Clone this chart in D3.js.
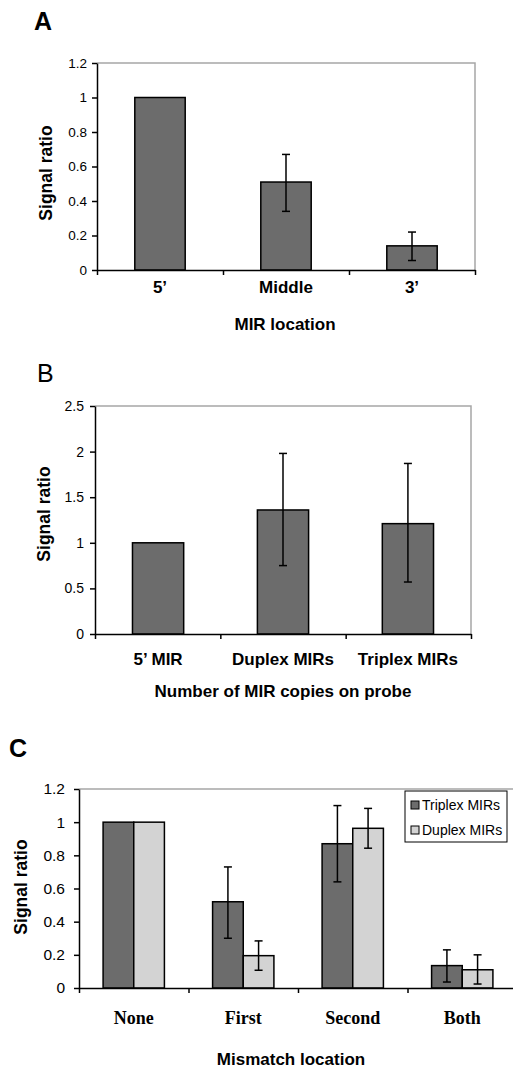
<!DOCTYPE html>
<html>
<head>
<meta charset="utf-8">
<script src="https://cdn.jsdelivr.net/npm/d3@7"></script>
<style>
  body { margin: 0; background: #fff; }
  svg { display: block; font-family: Arial, "Liberation Sans", sans-serif; }
  .border { stroke: #a6a6a6; stroke-width: 1.5; fill: none; }
  .axis path, .axis line { stroke: #000; stroke-width: 1.5; }
  .err { stroke: #000; stroke-width: 1.5; }
</style>
</head>
<body>
<svg id="chart" width="513" height="1068"></svg>
<script>
// panel A
var catsA = ["5\u2019", "Middle", "3\u2019"];
var valsA = [1, 0.51, 0.14];
var hiA = [null, 0.67, 0.22];
var loA = [null, 0.34, 0.055];
var ticksA = [0, 0.2, 0.4, 0.6, 0.8, 1, 1.2];

// panel B
var catsB = ["5\u2019 MIR", "Duplex MIRs", "Triplex MIRs"];
var valsB = [1, 1.36, 1.21];
var hiB = [null, 1.98, 1.87];
var loB = [null, 0.75, 0.57];
var ticksB = [0, 0.5, 1, 1.5, 2, 2.5];

// panel C
var catsC = ["None", "First", "Second", "Both"];
var seriesC = ["Triplex MIRs", "Duplex MIRs"];
var triplexC = [1, 0.52, 0.87, 0.135];
var triplexHiC = [null, 0.73, 1.10, 0.23];
var triplexLoC = [null, 0.30, 0.64, 0.036];
var duplexC = [1, 0.195, 0.963, 0.11];
var duplexHiC = [null, 0.284, 1.083, 0.20];
var duplexLoC = [null, 0.107, 0.843, 0.024];
var ticksC = [0, 0.2, 0.4, 0.6, 0.8, 1, 1.2];

var dark = "#6c6c6c", light = "#d3d3d3";
var svg = d3.select("#chart");

function panel(o) {
	var g = svg.append("g");
	var x = d3.scaleBand().domain(o.cats).range([o.left, o.right])
		.paddingInner(o.padIn).paddingOuter(o.padOut);
	var y = d3.scaleLinear().domain([0, o.max]).range([o.bottom, o.top]);
	var idx = d3.scaleLinear().domain([0, o.cats.length]).range([o.left, o.right]);

	// gray frame top and right
	g.append("path").attr("class", "border")
		.attr("d", "M" + o.left + "," + y(o.max) + "H" + o.right + "V" + o.bottom);

	var bars = g.append("g");
	o.series.forEach(function(s, si) {
		var sub = d3.scaleBand().domain(d3.range(o.series.length)).range([0, x.bandwidth()]);
		var bx = function(i) { return x(o.cats[i]) + sub(si); };
		bars.selectAll(null).data(s.vals).enter().append("rect")
			.attr("x", function(d, i) { return bx(i); })
			.attr("y", function(d) { return y(d); })
			.attr("width", sub.bandwidth())
			.attr("height", function(d) { return y(0) - y(d); })
			.attr("fill", s.color).attr("stroke", "#000").attr("stroke-width", 1.5);
		var errs = s.vals.map(function(d, i) { return {i: i, hi: s.hi[i], lo: s.lo[i]}; })
			.filter(function(e) { return e.hi != null; });
		var cx = function(e) { return bx(e.i) + sub.bandwidth() / 2; };
		var eg = bars.selectAll(null).data(errs).enter().append("g").attr("class", "err");
		eg.append("line").attr("x1", cx).attr("x2", cx)
			.attr("y1", function(e) { return y(e.hi); }).attr("y2", function(e) { return y(e.lo); });
		["hi", "lo"].forEach(function(k) {
			eg.append("line")
				.attr("x1", function(e) { return cx(e) - 4; }).attr("x2", function(e) { return cx(e) + 4; })
				.attr("y1", function(e) { return y(e[k]); }).attr("y2", function(e) { return y(e[k]); });
		});
	});

	g.append("g").attr("class", "axis")
		.attr("transform", "translate(" + o.left + ",0)")
		.call(d3.axisLeft(y).tickValues(o.ticks).tickSize(5).tickSizeOuter(0).tickPadding(o.tickPad)
			.tickFormat(function(d) { return String(d); }))
		.call(function(a) { a.selectAll("text").attr("font-size", o.tickFont).attr("fill", "#000").attr("font-family", "Arial, 'Liberation Sans', sans-serif"); });

	g.append("g").attr("class", "axis")
		.attr("transform", "translate(0," + o.bottom + ")")
		.call(d3.axisBottom(idx).tickValues(d3.range(o.cats.length + 1)).tickSize(5).tickSizeOuter(0).tickFormat(""));

	g.append("g").selectAll(null).data(o.cats).enter().append("text")
		.attr("x", function(d) { return x(d) + x.bandwidth() / 2; })
		.attr("y", o.bottom + o.labelDy)
		.attr("text-anchor", "middle")
		.attr("font-size", o.labelFont).attr("font-weight", "bold")
		.attr("font-family", o.labelFamily)
		.text(function(d) { return d; });

	g.append("text").attr("x", o.titleX).attr("y", o.titleY)
		.attr("text-anchor", "middle").attr("font-size", 17).attr("font-weight", "bold")
		.text(o.title);

	g.append("text")
		.attr("transform", "translate(" + o.ylabX + "," + o.ylabY + ") rotate(-90)")
		.attr("dy", "0.35em").attr("text-anchor", "middle")
		.attr("font-size", 17.5).attr("font-weight", "bold")
		.text("Signal ratio");

	g.append("text").attr("x", o.letterX).attr("y", o.letterY)
		.attr("font-size", 25).attr("font-weight", o.letterWeight)
		.text(o.letter);
	return {x: x, y: y, g: g};
}

panel({
	cats: catsA, max: 1.2, ticks: ticksA,
	series: [{vals: valsA, hi: hiA, lo: loA, color: dark}],
	left: 97, right: 475, top: 63, bottom: 270, padIn: 0.6, padOut: 0.3,
	tickPad: 5, tickFont: 13.5, labelDy: 23, labelFont: 17, labelFamily: "Arial, 'Liberation Sans', sans-serif",
	title: "MIR location", titleX: 285, titleY: 330, ylabX: 46, ylabY: 173,
	letter: "A", letterX: 34, letterY: 30, letterWeight: "bold"
});

panel({
	cats: catsB, max: 2.5, ticks: ticksB,
	series: [{vals: valsB, hi: hiB, lo: loB, color: dark}],
	left: 95, right: 471, top: 406, bottom: 634, padIn: 0.59, padOut: 0.3,
	tickPad: 6, tickFont: 14, labelDy: 31, labelFont: 17, labelFamily: "Arial, 'Liberation Sans', sans-serif",
	title: "Number of MIR copies on probe", titleX: 283, titleY: 697, ylabX: 44, ylabY: 514,
	letter: "B", letterX: 37, letterY: 382, letterWeight: "normal"
});

var pc = panel({
	cats: catsC, max: 1.2, ticks: ticksC,
	series: [
		{vals: triplexC, hi: triplexHiC, lo: triplexLoC, color: dark},
		{vals: duplexC, hi: duplexHiC, lo: duplexLoC, color: light}
	],
	left: 79, right: 517, top: 789, bottom: 988, padIn: 0.44, padOut: 0.22,
	tickPad: 9, tickFont: 15.5, labelDy: 36, labelFont: 18, labelFamily: "'Liberation Serif', 'Times New Roman', serif",
	title: "Mismatch location", titleX: 291, titleY: 1065, ylabX: 21, ylabY: 887,
	letter: "C", letterX: 9, letterY: 757, letterWeight: "bold"
});

// legend for C
var lg = pc.g.append("g").attr("transform", "translate(405,791)");
lg.append("rect").attr("width", 102).attr("height", 51).attr("fill", "#fff").attr("stroke", "#000").attr("stroke-width", 1);
var li = lg.selectAll(null).data(seriesC).enter().append("g")
	.attr("transform", function(d, i) { return "translate(6," + (14 + i * 25) + ")"; });
li.append("rect").attr("x", 0).attr("y", -4).attr("width", 8).attr("height", 8)
	.attr("fill", function(d, i) { return i ? light : dark; }).attr("stroke", "#000");
li.append("text").attr("x", 11).attr("dy", "0.36em").attr("font-size", 14).text(function(d) { return d; });
</script>
</body>
</html>
